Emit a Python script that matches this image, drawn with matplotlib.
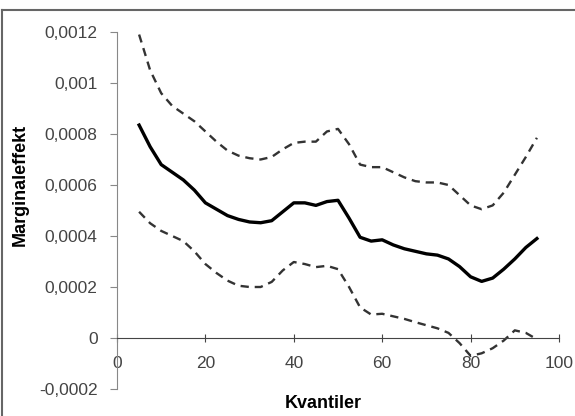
import matplotlib
matplotlib.use("Agg")
import matplotlib.pyplot as plt
from matplotlib.lines import Line2D
from matplotlib.ticker import FuncFormatter

plt.rcParams['font.family'] = ['Liberation Sans', 'DejaVu Sans']

# quantiles
kvantiler = [5, 7.5, 10, 12.5, 15, 17.5, 20, 22.5, 25, 27.5, 30, 32.5, 35, 37.5,
             40, 42.5, 45, 47.5, 50, 52.5, 55, 57.5, 60, 62.5, 65, 67.5, 70,
             72.5, 75, 77.5, 80, 82.5, 85, 87.5, 90, 92.5, 95]

# marginal effect (solid)
effekt = [0.000835, 0.00075, 0.00068, 0.00065, 0.00062, 0.00058, 0.00053,
          0.000505, 0.00048, 0.000465, 0.000455, 0.000452, 0.00046, 0.000495,
          0.00053, 0.00053, 0.00052, 0.000535, 0.00054, 0.00047, 0.000395,
          0.00038, 0.000385, 0.000365, 0.00035, 0.00034, 0.00033, 0.000325,
          0.00031, 0.00028, 0.00024, 0.000222, 0.000235, 0.00027, 0.00031,
          0.000355, 0.00039]

# upper band (dashed)
ovre = [0.00119, 0.00105, 0.00096, 0.00091, 0.00088, 0.00085, 0.00081,
        0.00077, 0.000735, 0.000715, 0.000705, 0.0007, 0.00071, 0.00074,
        0.000765, 0.00077, 0.00077, 0.00081, 0.00082, 0.00076, 0.00068,
        0.00067, 0.00067, 0.00065, 0.00063, 0.000615, 0.00061, 0.00061,
        0.0006, 0.00056, 0.00052, 0.000505, 0.00052, 0.00057, 0.00064,
        0.00071, 0.000785]

# lower band (dashed)
nedre = [0.000495, 0.00045, 0.00042, 0.0004, 0.00038, 0.00034, 0.00029,
         0.000255, 0.000225, 0.000205, 0.0002, 0.0002, 0.00022, 0.000265,
         0.000298, 0.00029, 0.000278, 0.000283, 0.00027, 0.0002, 0.00012,
         0.000092, 0.000095, 0.000085, 0.000075, 0.000062, 0.00005, 0.000038,
         0.00002, -0.00002, -0.00007, -0.00006, -0.00004, -0.00001, 0.00003,
         0.00002, -0.000005]

xticks = [0, 20, 40, 60, 80, 100]
yticks = [-0.0002, 0, 0.0002, 0.0004, 0.0006, 0.0008, 0.001, 0.0012]

W, H = 575, 416
fig = plt.figure(figsize=(W/100, H/100), dpi=100)
ax = fig.add_axes([117/W, 1-389/H, 442/W, (389-32)/H])

ax.plot(kvantiler, ovre, color='#333333', lw=1.7, dashes=(3.5, 2.5))
ax.plot(kvantiler, nedre, color='#333333', lw=1.7, dashes=(3.5, 2.5))
ax.plot(kvantiler, effekt, color='black', lw=2.4)

ax.set_xlim(0, 100)
ax.set_ylim(-0.0002, 0.0012)
ax.spines['right'].set_visible(False)
ax.spines['top'].set_visible(False)
ax.spines['bottom'].set_position(('data', 0))
ax.spines['bottom'].set_color('#444444')
ax.spines['left'].set_color('#888888')

ax.set_xticks(xticks)
ax.set_yticks(yticks)


def komma(v, pos):
    if abs(v) < 1e-12:
        return '0'
    s = ('%.4f' % v).rstrip('0').rstrip('.')
    return s.replace('.', ',')


ax.yaxis.set_major_formatter(FuncFormatter(komma))
ax.xaxis.set_major_formatter(FuncFormatter(lambda v, p: '%d' % v))
ax.tick_params(axis='y', direction='out', length=5, color='#888888',
               labelsize=12.5, labelcolor='#444444', pad=9)
ax.tick_params(axis='x', direction='inout', length=6, color='#444444',
               labelsize=12.5, labelcolor='#444444', pad=10)

fig.text(20/W, 1-185/H, 'Marginaleffekt', rotation=90, fontsize=13,
         fontweight='bold', ha='center', va='center')
fig.text(323/W, 1-403/H, 'Kvantiler', fontsize=13, fontweight='bold',
         ha='center', va='center')

# outer frame (top and left only visible)
fig.add_artist(Line2D([2/W, 2/W], [0, 1-10/H], color='#666666', lw=1.5))
fig.add_artist(Line2D([2/W, 1], [1-10/H, 1-10/H], color='#666666', lw=1.5))

fig.savefig('out.png', dpi=100)
